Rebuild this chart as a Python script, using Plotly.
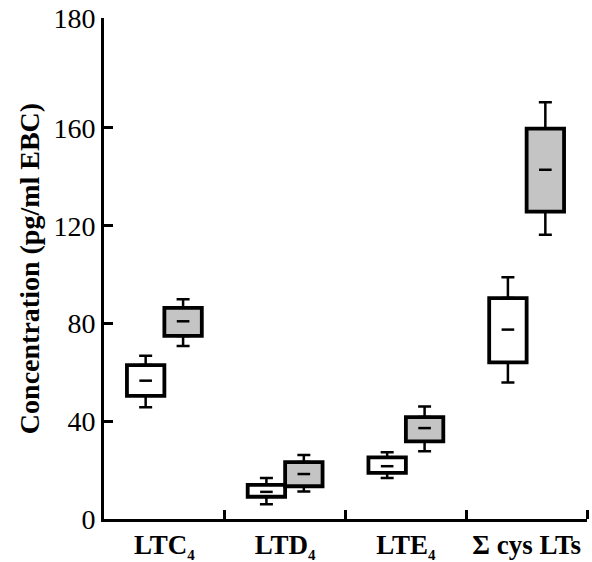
import plotly.graph_objects as go
import numpy as np

# ---- data ----
categories = ["LTC<sub><span style='font-size:15px'>4</span></sub>",
              "LTD<sub><span style='font-size:15px'>4</span></sub>",
              "LTE<sub><span style='font-size:15px'>4</span></sub>",
              "Σ cys LTs"]

# group 1 (white boxes)
g1_lower = [45.7, 6.0, 16.8, 55.9]
g1_q1 = [50.4, 9.1, 18.9, 64.1]
g1_median = [56.6, 11.1, 21.6, 77.5]
g1_q3 = [63.0, 14.0, 25.2, 90.4]
g1_upper = [66.8, 16.8, 27.3, 98.9]

# group 2 (grey boxes)
g2_lower = [70.8, 11.3, 27.7, 116.3]
g2_q1 = [74.9, 13.4, 31.8, 125.8]
g2_median = [80.9, 18.4, 37.2, 142.9]
g2_q3 = [86.4, 23.3, 41.7, 159.7]
g2_upper = [89.9, 26.2, 46.0, 170.5]

y_tick_values = [0, 40, 80, 120, 160, 205]
y_tick_labels = ["0", "40", "80", "120", "160", "180"]

# ---- style ----
FONT = "Liberation Serif, Times New Roman, serif"
BOX_W = 0.31
OFFSET = 0.155
groups = [
    dict(lower=g1_lower, q1=g1_q1, med=g1_median, q3=g1_q3, upper=g1_upper,
         fill="white", shift=-OFFSET),
    dict(lower=g2_lower, q1=g2_q1, med=g2_median, q3=g2_q3, upper=g2_upper,
         fill="#c4c4c4", shift=OFFSET),
]

idx = np.arange(len(categories))
fig = go.Figure()

for g in groups:
    xs = idx + g["shift"]
    q1 = np.array(g["q1"]); q3 = np.array(g["q3"])
    lo = np.array(g["lower"]); hi = np.array(g["upper"])
    med = np.array(g["med"])
    # IQR box
    fig.add_trace(go.Bar(
        x=xs, y=q3 - q1, base=q1, width=BOX_W,
        marker=dict(color=g["fill"], line=dict(color="black", width=3.8)),
        showlegend=False, hoverinfo="skip"))
    # upper whisker
    fig.add_trace(go.Scatter(
        x=xs, y=q3, mode="markers",
        marker=dict(size=1, color="rgba(0,0,0,0)"),
        error_y=dict(type="data", symmetric=False, array=hi - q3,
                     arrayminus=np.zeros(len(xs)), width=6.5, thickness=2.5,
                     color="black"),
        showlegend=False, hoverinfo="skip"))
    # lower whisker
    fig.add_trace(go.Scatter(
        x=xs, y=q1, mode="markers",
        marker=dict(size=1, color="rgba(0,0,0,0)"),
        error_y=dict(type="data", symmetric=False, array=np.zeros(len(xs)),
                     arrayminus=q1 - lo, width=6.5, thickness=2.5,
                     color="black"),
        showlegend=False, hoverinfo="skip"))
    # median dash
    fig.add_trace(go.Scatter(
        x=xs, y=med, mode="markers",
        marker=dict(symbol="line-ew", size=9,
                    line=dict(color="black", width=2.5)),
        showlegend=False, hoverinfo="skip"))

fig.update_layout(
    template="none",
    width=592, height=562,
    margin=dict(l=104, r=5, t=18, b=43, autoexpand=False),
    paper_bgcolor="white", plot_bgcolor="white",
    barmode="overlay",
    font=dict(family=FONT, color="black"),
    xaxis=dict(
        automargin=False,
        range=[-0.5, len(categories) - 0.5],
        tickmode="array", tickvals=idx, ticktext=categories,
        ticks="", showgrid=False, zeroline=False,
        showline=True, linecolor="black", linewidth=3,
        ticklabelstandoff=0,
        tickfont=dict(family=FONT, size=27, weight="bold", color="black"),
        minor=dict(tickmode="array", tickvals=idx + 0.5, ticks="inside",
                   ticklen=9, tickwidth=3, tickcolor="black", showgrid=False),
    ),
    yaxis=dict(
        automargin=False,
        range=[0, y_tick_values[-1]],
        tickmode="array", tickvals=y_tick_values, ticktext=y_tick_labels,
        ticks="inside", ticklen=9, tickwidth=3, tickcolor="black",
        showgrid=False, zeroline=False,
        showline=True, linecolor="black", linewidth=3,
        tickfont=dict(family=FONT, size=28, color="black"),
        title=dict(text="Concentration (pg/ml EBC)",
                   font=dict(family=FONT, size=28, weight="bold", color="black"),
                   standoff=6),
    ),
)

fig.write_html("out.html")
